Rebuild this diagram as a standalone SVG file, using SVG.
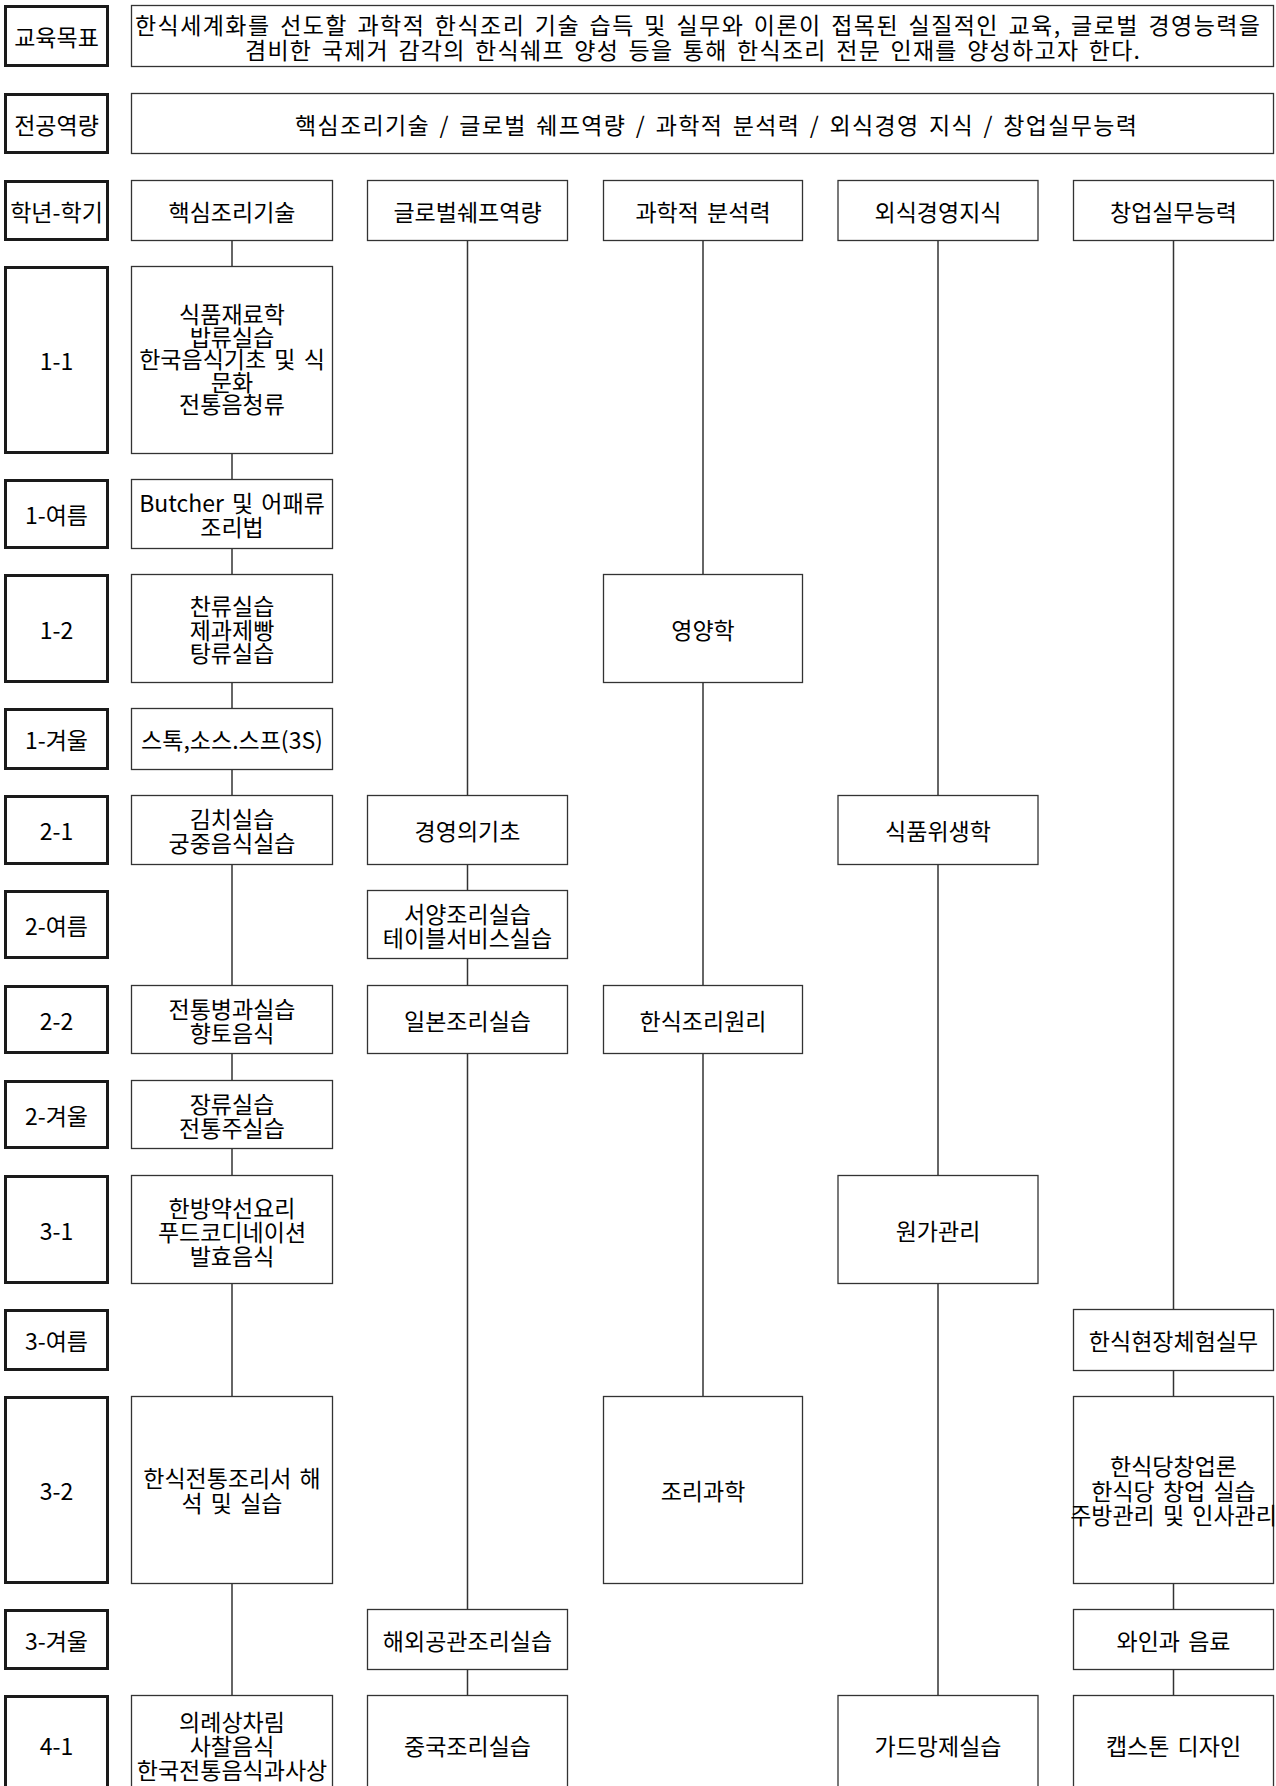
<svg xmlns="http://www.w3.org/2000/svg" width="1276" height="1786" viewBox="0 0 1276 1786">
<style>
.lbl rect{fill:#fff;stroke:#1a1a1a;stroke-width:3}
.crs rect{fill:#fff;stroke:#333;stroke-width:1.3}
text{font-family:"Noto Sans CJK KR","Malgun Gothic",sans-serif;font-size:23px;fill:#000;text-anchor:middle;dominant-baseline:central;word-spacing:3px}
text.l{text-anchor:start}
.conn line{stroke:#333;stroke-width:1.5}
</style>
<rect width="1276" height="1786" fill="#fff"/>
<g class="conn">
<line x1="232" y1="241" x2="232" y2="266"/>
<line x1="232" y1="454" x2="232" y2="479"/>
<line x1="232" y1="549" x2="232" y2="574"/>
<line x1="232" y1="683" x2="232" y2="708"/>
<line x1="232" y1="770" x2="232" y2="795"/>
<line x1="232" y1="865" x2="232" y2="985"/>
<line x1="232" y1="1054" x2="232" y2="1080"/>
<line x1="232" y1="1149" x2="232" y2="1175"/>
<line x1="232" y1="1284" x2="232" y2="1396"/>
<line x1="232" y1="1584" x2="232" y2="1695"/>
<line x1="467.5" y1="241" x2="467.5" y2="795"/>
<line x1="467.5" y1="865" x2="467.5" y2="890"/>
<line x1="467.5" y1="959" x2="467.5" y2="985"/>
<line x1="467.5" y1="1054" x2="467.5" y2="1609"/>
<line x1="467.5" y1="1670" x2="467.5" y2="1695"/>
<line x1="703" y1="241" x2="703" y2="574"/>
<line x1="703" y1="683" x2="703" y2="985"/>
<line x1="703" y1="1054" x2="703" y2="1396"/>
<line x1="938" y1="241" x2="938" y2="795"/>
<line x1="938" y1="865" x2="938" y2="1175"/>
<line x1="938" y1="1284" x2="938" y2="1695"/>
<line x1="1173.5" y1="241" x2="1173.5" y2="1309"/>
<line x1="1173.5" y1="1371" x2="1173.5" y2="1396"/>
<line x1="1173.5" y1="1584" x2="1173.5" y2="1609"/>
<line x1="1173.5" y1="1670" x2="1173.5" y2="1695"/>
</g>
<g id="labels" class="lbl">
<g id="lbl-goal"><rect x="5.5" y="6.5" width="102" height="59"/><text x="56.5" y="36">교육목표</text></g>
<g id="lbl-comp"><rect x="5.5" y="94.5" width="102" height="58"/><text x="56.5" y="123.5">전공역량</text></g>
<g id="lbl-term"><rect x="5.5" y="181.5" width="102" height="58"/><text x="56.5" y="210.5">학년-학기</text></g>
<g id="lbl-1-1"><rect x="5.5" y="267.5" width="102" height="185"/><text x="56.5" y="360">1-1</text></g>
<g id="lbl-1-s"><rect x="5.5" y="480.5" width="102" height="67"/><text x="56.5" y="514">1-여름</text></g>
<g id="lbl-1-2"><rect x="5.5" y="575.5" width="102" height="106"/><text x="56.5" y="628.5">1-2</text></g>
<g id="lbl-1-w"><rect x="5.5" y="709.5" width="102" height="59"/><text x="56.5" y="739">1-겨울</text></g>
<g id="lbl-2-1"><rect x="5.5" y="796.5" width="102" height="67"/><text x="56.5" y="830">2-1</text></g>
<g id="lbl-2-s"><rect x="5.5" y="891.5" width="102" height="66"/><text x="56.5" y="924.5">2-여름</text></g>
<g id="lbl-2-2"><rect x="5.5" y="986.5" width="102" height="66"/><text x="56.5" y="1019.5">2-2</text></g>
<g id="lbl-2-w"><rect x="5.5" y="1081.5" width="102" height="66"/><text x="56.5" y="1114.5">2-겨울</text></g>
<g id="lbl-3-1"><rect x="5.5" y="1176.5" width="102" height="106"/><text x="56.5" y="1229.5">3-1</text></g>
<g id="lbl-3-s"><rect x="5.5" y="1310.5" width="102" height="59"/><text x="56.5" y="1340">3-여름</text></g>
<g id="lbl-3-2"><rect x="5.5" y="1397.5" width="102" height="185"/><text x="56.5" y="1490">3-2</text></g>
<g id="lbl-3-w"><rect x="5.5" y="1610.5" width="102" height="58"/><text x="56.5" y="1639.5">3-겨울</text></g>
<g id="lbl-4-1"><rect x="5.5" y="1696.5" width="102" height="110"/><text x="56.5" y="1745">4-1</text></g>
</g>
<g id="top" class="crs">
<g id="goal"><rect x="131.5" y="5.5" width="1142" height="61"/>
<text class="l" x="135" y="23.5" textLength="1125" lengthAdjust="spacing">한식세계화를 선도할 과학적 한식조리 기술 습득 및 실무와 이론이 접목된 실질적인 교육, 글로벌 경영능력을</text>
<text class="l" x="245" y="48.5" textLength="895" lengthAdjust="spacing">겸비한 국제거 감각의 한식쉐프 양성 등을 통해 한식조리 전문 인재를 양성하고자 한다.</text></g>
<g id="competency"><rect x="131.5" y="93.5" width="1142" height="60"/>
<text class="l" x="295" y="123.5" textLength="842" lengthAdjust="spacing">핵심조리기술 / 글로벌 쉐프역량 / 과학적 분석력 / 외식경영 지식 / 창업실무능력</text></g>
</g>
<g id="col1" class="crs">
<g id="h1"><rect x="131.5" y="180.5" width="201" height="60"/><text x="232" y="210.5">핵심조리기술</text></g>
<g id="c1-11"><rect x="131.5" y="266.5" width="201" height="187"/><text><tspan x="232" y="313">식품재료학</tspan><tspan x="232" y="335.5">밥류실습</tspan><tspan x="232" y="358">한국음식기초 및 식</tspan><tspan x="232" y="380.5">문화</tspan><tspan x="232" y="403">전통음청류</tspan></text></g>
<g id="c1-1s"><rect x="131.5" y="479.5" width="201" height="69"/><text><tspan x="232" y="502">Butcher 및 어패류</tspan><tspan x="232" y="526">조리법</tspan></text></g>
<g id="c1-12"><rect x="131.5" y="574.5" width="201" height="108"/><text><tspan x="232" y="605">찬류실습</tspan><tspan x="232" y="628.5">제과제빵</tspan><tspan x="232" y="652">탕류실습</tspan></text></g>
<g id="c1-1w"><rect x="131.5" y="708.5" width="201" height="61"/><text x="232" y="739">스톡,소스.스프(3S)</text></g>
<g id="c1-21"><rect x="131.5" y="795.5" width="201" height="69"/><text><tspan x="232" y="818">김치실습</tspan><tspan x="232" y="842">궁중음식실습</tspan></text></g>
<g id="c1-22"><rect x="131.5" y="985.5" width="201" height="68"/><text><tspan x="232" y="1007.5">전통병과실습</tspan><tspan x="232" y="1031.5">향토음식</tspan></text></g>
<g id="c1-2w"><rect x="131.5" y="1080.5" width="201" height="68"/><text><tspan x="232" y="1102.5">장류실습</tspan><tspan x="232" y="1126.5">전통주실습</tspan></text></g>
<g id="c1-31"><rect x="131.5" y="1175.5" width="201" height="108"/><text><tspan x="232" y="1207">한방약선요리</tspan><tspan x="232" y="1231">푸드코디네이션</tspan><tspan x="232" y="1255">발효음식</tspan></text></g>
<g id="c1-32"><rect x="131.5" y="1396.5" width="201" height="187"/><text><tspan x="232" y="1477">한식전통조리서 해</tspan><tspan x="232" y="1502">석 및 실습</tspan></text></g>
<g id="c1-41"><rect x="131.5" y="1695.5" width="201" height="110"/><text><tspan x="232" y="1721">의례상차림</tspan><tspan x="232" y="1745">사찰음식</tspan><tspan x="232" y="1769">한국전통음식과사상</tspan></text></g>
</g>
<g id="col2" class="crs">
<g id="h2"><rect x="367.5" y="180.5" width="200" height="60"/><text x="467.5" y="210.5">글로벌쉐프역량</text></g>
<g id="c2-21"><rect x="367.5" y="795.5" width="200" height="69"/><text x="467.5" y="830">경영의기초</text></g>
<g id="c2-2s"><rect x="367.5" y="890.5" width="200" height="68"/><text><tspan x="467.5" y="912.5">서양조리실습</tspan><tspan x="467.5" y="936.5">테이블서비스실습</tspan></text></g>
<g id="c2-22"><rect x="367.5" y="985.5" width="200" height="68"/><text x="467.5" y="1019.5">일본조리실습</text></g>
<g id="c2-3w"><rect x="367.5" y="1609.5" width="200" height="60"/><text x="467.5" y="1639.5">해외공관조리실습</text></g>
<g id="c2-41"><rect x="367.5" y="1695.5" width="200" height="110"/><text x="467.5" y="1745">중국조리실습</text></g>
</g>
<g id="col3" class="crs">
<g id="h3"><rect x="603.5" y="180.5" width="199" height="60"/><text x="703" y="210.5">과학적 분석력</text></g>
<g id="c3-12"><rect x="603.5" y="574.5" width="199" height="108"/><text x="703" y="628.5">영양학</text></g>
<g id="c3-22"><rect x="603.5" y="985.5" width="199" height="68"/><text x="703" y="1019.5">한식조리원리</text></g>
<g id="c3-32"><rect x="603.5" y="1396.5" width="199" height="187"/><text x="703" y="1490">조리과학</text></g>
</g>
<g id="col4" class="crs">
<g id="h4"><rect x="838" y="180.5" width="200" height="60"/><text x="938" y="210.5">외식경영지식</text></g>
<g id="c4-21"><rect x="838" y="795.5" width="200" height="69"/><text x="938" y="830">식품위생학</text></g>
<g id="c4-31"><rect x="838" y="1175.5" width="200" height="108"/><text x="938" y="1229.5">원가관리</text></g>
<g id="c4-41"><rect x="838" y="1695.5" width="200" height="110"/><text x="938" y="1745">가드망제실습</text></g>
</g>
<g id="col5" class="crs">
<g id="h5"><rect x="1073.5" y="180.5" width="200" height="60"/><text x="1173.5" y="210.5">창업실무능력</text></g>
<g id="c5-3s"><rect x="1073.5" y="1309.5" width="200" height="61"/><text x="1173.5" y="1340">한식현장체험실무</text></g>
<g id="c5-32"><rect x="1073.5" y="1396.5" width="200" height="187"/><text><tspan x="1173.5" y="1465">한식당창업론</tspan><tspan x="1173.5" y="1489.5">한식당 창업 실습</tspan><tspan x="1173.5" y="1514">주방관리 및 인사관리</tspan></text></g>
<g id="c5-3w"><rect x="1073.5" y="1609.5" width="200" height="60"/><text x="1173.5" y="1639.5">와인과 음료</text></g>
<g id="c5-41"><rect x="1073.5" y="1695.5" width="200" height="110"/><text x="1173.5" y="1745">캡스톤 디자인</text></g>
</g>
</svg>
